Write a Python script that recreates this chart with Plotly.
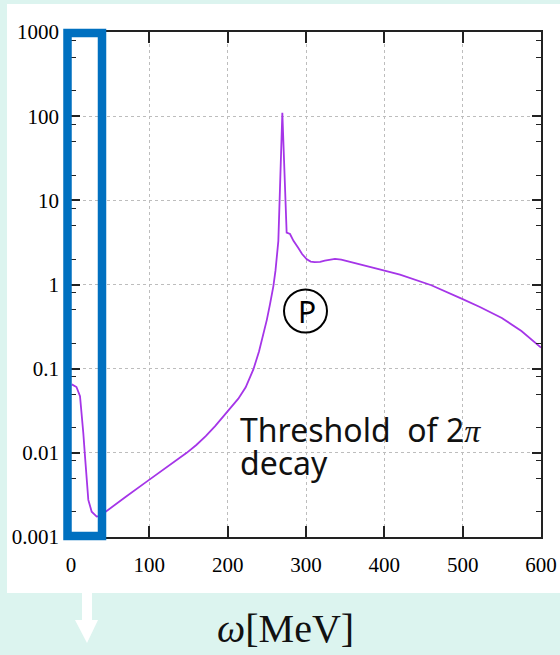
import plotly.graph_objects as go

# ---- data ----
omega = [1, 7, 11.5, 13.6, 15.7, 17.9, 20, 22.1, 26.4, 32.8, 37, 44.7, 70,
         96.6, 122, 147.7, 160, 172, 184, 194.5, 204, 213.6, 223, 232.8, 240,
         245.5, 250, 254, 258.3, 261, 263.4, 264.7, 269.8, 275.3, 279.6, 284,
         290, 295, 301, 306, 311, 318, 324, 331, 337, 345, 365, 394,
         420, 460, 500, 522, 550, 575, 600]
response = [0.065, 0.0605, 0.047, 0.0297, 0.0172, 0.0090, 0.00436, 0.00276,
            0.0020, 0.00175, 0.00178, 0.0020, 0.0030,
            0.00455, 0.0067, 0.0100, 0.0124, 0.0158, 0.0208, 0.0270, 0.034,
            0.044, 0.060, 0.098, 0.16,
            0.25, 0.38, 0.58, 0.95, 1.45, 2.3, 3.3, 110, 4.13, 3.98, 3.3,
            2.73, 2.3, 1.99, 1.87, 1.84, 1.86, 1.92, 1.98, 2.02, 1.97, 1.78, 1.51,
            1.31, 0.98, 0.67, 0.54, 0.40, 0.28, 0.178]

x_ticks = [0, 100, 200, 300, 400, 500, 600]
y_ticks = [0.001, 0.01, 0.1, 1, 10, 100, 1000]
y_tick_labels = ["0.001", "0.01", "0.1", "1", "10", "100", "1000"]
y_minor = [m * 10.0 ** e for e in range(-3, 3) for m in (2, 5, 8)]

# ---- geometry helpers (pixel -> paper) ----
L, R, T, B = 71, 541, 32, 537
W, H = 560, 655
def px(x):
    return (x - L) / (R - L)
def py(y):
    return (B - y) / (B - T)

fig = go.Figure()
fig.add_trace(go.Scatter(x=omega, y=response, mode="lines",
                         line=dict(color="#a535e8", width=1.8),
                         hoverinfo="skip", showlegend=False))

tickfont = dict(family="Liberation Serif", size=21, color="black")
fig.update_layout(
    width=W, height=H,
    margin=dict(l=L, r=W - R, t=T, b=H - B, pad=0, autoexpand=False),
    paper_bgcolor="#dcf4ef",
    plot_bgcolor="white",
    xaxis=dict(range=[0, 600], tickvals=x_ticks, ticks="inside", ticklen=11,
               tickwidth=1.5, tickcolor="#222", mirror="allticks",
               showline=True, linecolor="#222", linewidth=1.5,
               showgrid=True, gridcolor="#bdbdbd", griddash="dot", gridwidth=1,
               zeroline=False, tickfont=tickfont, ticklabelstandoff=8),
    yaxis=dict(type="log", range=[-3, 3], tickvals=y_ticks, ticktext=y_tick_labels,
               ticks="inside", ticklen=9, tickwidth=1.5, tickcolor="#222",
               mirror="allticks", showline=True, linecolor="#222", linewidth=1.5,
               showgrid=True, gridcolor="#bdbdbd", griddash="dot", gridwidth=1,
               zeroline=False, tickfont=tickfont, ticklabelstandoff=6,
               minor=dict(tickvals=y_minor, ticks="inside", ticklen=5,
                          tickcolor="#222", tickwidth=1.2, showgrid=False)),
)

shapes = []
# white panel
shapes.append(dict(type="rect", xref="paper", yref="paper", layer="below",
                   x0=px(7), x1=px(562), y0=py(593), y1=py(4),
                   fillcolor="white", line=dict(width=0)))
# blue highlight box
shapes.append(dict(type="rect", xref="paper", yref="paper", layer="above",
                   x0=px(67.5), x1=px(102), y0=py(536), y1=py(33),
                   line=dict(color="#0070c0", width=8.5)))
# white arrow below the panel
arrow = "M {a},{b} L {c},{b} L {c},{d} L {e},{d} L {f},{g} L {h},{d} L {a},{d} Z".format(
    a=px(82), b=py(592), c=px(92), d=py(620), e=px(98), f=px(87), g=py(643), h=px(75))
shapes.append(dict(type="path", xref="paper", yref="paper", path=arrow,
                   fillcolor="white", line=dict(width=0)))
# circle around P
shapes.append(dict(type="circle", xref="paper", yref="paper",
                   x0=px(284), x1=px(327), y0=py(332.5), y1=py(289.5),
                   line=dict(color="black", width=2)))
fig.update_layout(shapes=shapes)

ann = []
ann.append(dict(text="P", xref="paper", yref="paper", x=px(306.5), y=py(311.5),
                xanchor="center", yanchor="middle", showarrow=False,
                font=dict(family="Noto Sans", size=30, color="black")))
ann.append(dict(text='Threshold  of 2<span style="font-family:Liberation Serif"><i>π</i></span>',
                xref="paper", yref="paper", x=px(238), y=py(429.5),
                xanchor="left", yanchor="middle", showarrow=False,
                font=dict(family="Noto Sans", size=32, color="#111")))
ann.append(dict(text="decay", xref="paper", yref="paper", x=px(238), y=py(462.5),
                xanchor="left", yanchor="middle", showarrow=False,
                font=dict(family="Noto Sans", size=32, color="#111")))
ann.append(dict(text="<i>ω</i>[MeV]", xref="paper", yref="paper", x=px(285), y=py(628),
                xanchor="center", yanchor="middle", showarrow=False,
                font=dict(family="Liberation Serif", size=40, color="#111")))
fig.update_layout(annotations=ann)

fig.write_html("out.html", config={"displayModeBar": False},
               post_script="document.body.style.margin='0';document.body.style.overflow='hidden';")
